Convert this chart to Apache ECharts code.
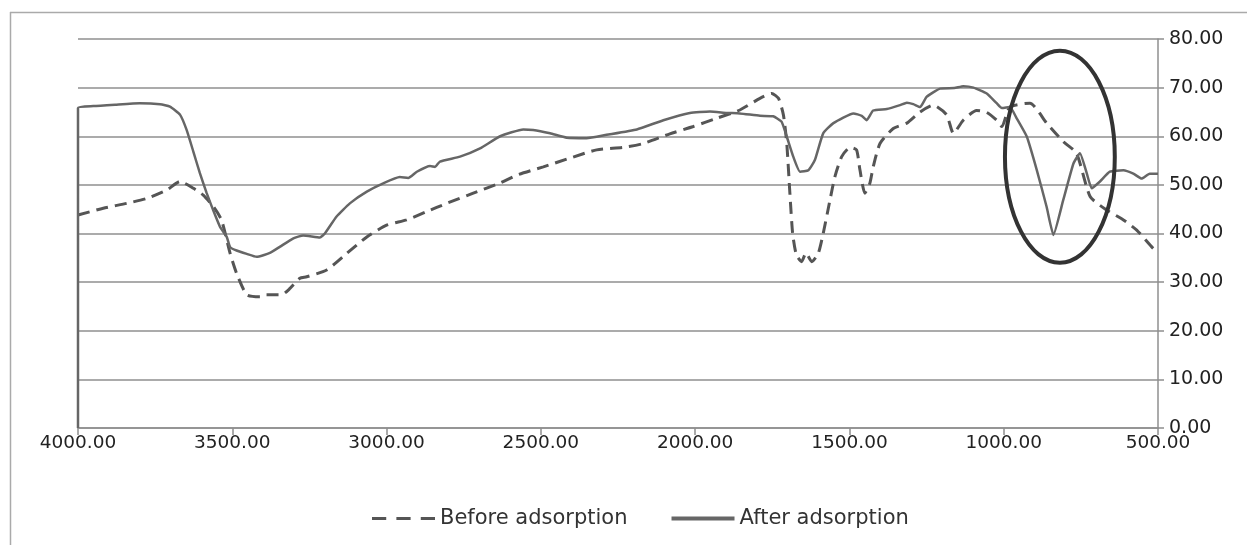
<!DOCTYPE html>
<html>
<head>
<meta charset="utf-8">
<script src="https://cdn.jsdelivr.net/npm/echarts@6/dist/echarts.min.js"></script>
<style>html,body{margin:0;padding:0;background:#fff;}#c{width:1247px;height:545px;}</style>
</head>
<body>
<div id="c"></div>
<script>
var xTicks = [4000, 3500, 3000, 2500, 2000, 1500, 1000, 500];
var yTicks = [0, 10, 20, 30, 40, 50, 60, 70, 80];

var beforeX = [4000,3918,3842,3777,3713,3669,3626,3594,3561,3535,3507,3486,3453,3410,3389,3340,3313,3281,3259,3194,3129,3064,3000,2935,2870,2805,2719,2632,2578,2492,2406,2319,2233,2168,2082,2006,1930,1855,1790,1752,1730,1714,1703,1693,1684,1672,1655,1641,1622,1601,1585,1563,1547,1525,1498,1477,1466,1450,1434,1423,1401,1358,1314,1271,1228,1185,1163,1131,1088,1055,1023,1006,980,915,861,807,764,720,666,612,569,521,500];
var beforeY = [43.8,45.2,46.2,47.2,48.9,50.7,49.3,47.9,45.5,42.8,35.9,31.8,27.4,27.0,27.4,27.4,28.7,30.8,31.1,32.5,35.9,39.3,41.7,42.8,44.5,46.2,48.3,50.4,52.0,53.7,55.5,57.2,57.7,58.5,60.5,62.0,63.7,65.4,67.8,68.8,67.8,64.4,58.5,48.3,40.0,35.6,34.2,36.0,34.2,35.9,40.0,46.9,51.7,55.8,57.7,57.2,53.1,48.3,50.3,53.7,58.5,61.6,62.7,65.0,66.4,64.4,60.6,63.3,65.3,64.9,63.3,62.0,66.0,66.8,62.7,58.9,56.5,47.6,44.8,42.8,40.7,37.3,36.0];

var afterX = [4000,4000,3950,3880,3800,3734,3702,3669,3648,3626,3605,3583,3562,3540,3518,3507,3486,3453,3421,3378,3345,3302,3270,3216,3200,3162,3119,3064,3011,2957,2930,2902,2859,2843,2827,2762,2697,2632,2557,2525,2470,2416,2352,2287,2189,2103,2017,1952,1898,1855,1790,1747,1720,1703,1682,1660,1633,1612,1585,1552,1487,1460,1444,1423,1379,1336,1314,1293,1271,1250,1206,1160,1131,1098,1055,1023,1006,980,958,925,893,861,839,807,774,753,731,715,688,656,612,580,553,527,500];
var afterY = [0,65.8,66.2,66.5,66.8,66.6,66.1,64.4,61.3,56.8,52.4,48.3,44.8,41.4,39.3,37.2,36.5,35.8,35.2,36.0,37.3,39.0,39.6,39.2,40.0,43.5,46.2,48.6,50.3,51.6,51.4,52.7,53.9,53.7,54.8,55.8,57.5,60.0,61.4,61.3,60.6,59.7,59.6,60.3,61.4,63.3,64.8,65.1,64.8,64.7,64.2,64.1,63.0,59.9,55.8,52.7,53.0,55.1,60.6,62.7,64.7,64.2,63.3,65.3,65.6,66.4,66.9,66.6,66.0,68.1,69.8,69.9,70.3,70.0,68.8,66.8,65.8,66.0,63.7,59.9,53.1,45.5,39.7,46.9,54.4,56.5,52.4,49.3,50.7,52.7,53.0,52.3,51.3,52.3,52.3];

function zip(a, b) { return a.map(function (v, i) { return [v, b[i]]; }); }

var chart = echarts.init(document.getElementById('c'), null, {renderer: 'canvas'});
var font = 'DejaVu Sans';
chart.setOption({
  animation: false,
  backgroundColor: '#fff',
  grid: {left: 78, right: 89, top: 39, bottom: 117},
  legend: {
    left: 367, top: 503,
    itemWidth: 63, itemHeight: 4, itemGap: 44,
    textStyle: {fontFamily: font, fontSize: 21, color: '#333', padding: [0,0,0,0]},
    data: [
      {name: 'Before adsorption', icon: 'path://M0,0h14v3h-14zM24,0h14v3h-14zM48,0h14v3h-14z', itemStyle: {color: '#555'}},
      {name: 'After adsorption', icon: 'rect', itemStyle: {color: '#666'}}
    ]
  },
  xAxis: {
    type: 'value', inverse: true, min: 500, max: 4000, interval: 500,
    axisLine: {show: true, lineStyle: {color: '#8f8f8f', width: 1.5}},
    axisTick: {show: true, length: 7, lineStyle: {color: '#8f8f8f', width: 1.5}},
    axisLabel: {fontFamily: font, fontSize: 18.5, color: '#222', margin: 6,
      formatter: function (v) { return v.toFixed(2); }},
    splitLine: {show: false}
  },
  yAxis: {
    type: 'value', position: 'right', min: 0, max: 80, interval: 10,
    axisLine: {show: true, lineStyle: {color: '#8f8f8f', width: 1.5}},
    axisTick: {show: true, length: 6, lineStyle: {color: '#8f8f8f', width: 1.5}},
    axisLabel: {fontFamily: font, fontSize: 19, color: '#222', margin: 11,
      formatter: function (v) { return v.toFixed(2); }},
    splitLine: {show: true, lineStyle: {color: '#8f8f8f', width: 1.5}}
  },
  series: [
    {name: 'Before adsorption', type: 'line', data: zip(beforeX, beforeY), showSymbol: false, symbol: 'none',
      smooth: 0.2, lineStyle: {color: '#555', width: 3, type: [12, 7]}, itemStyle: {color: '#555'}},
    {name: 'After adsorption', type: 'line', data: zip(afterX, afterY), showSymbol: false, symbol: 'none',
      smooth: 0.15, lineStyle: {color: '#666', width: 2.5}, itemStyle: {color: '#666'}}
  ]
});

// annotation ellipse in data coordinates
var ellCenter = [818, 55.8], ellRx = 178, ellRy = 21.8;
var c = chart.convertToPixel({gridIndex: 0}, ellCenter);
var e1 = chart.convertToPixel({gridIndex: 0}, [ellCenter[0] + ellRx, ellCenter[1] + ellRy]);
var rx = Math.abs(e1[0] - c[0]), ry = Math.abs(e1[1] - c[1]);
chart.setOption({
  graphic: [
    {type: 'ellipse', shape: {cx: c[0], cy: c[1], rx: rx, ry: ry}, style: {fill: 'none', stroke: '#333', lineWidth: 4}, z: 100},
    {type: 'line', shape: {x1: 10.5, y1: 12, x2: 10.5, y2: 545}, style: {stroke: '#aaa', lineWidth: 1.5}},
    {type: 'line', shape: {x1: 10, y1: 12.5, x2: 1247, y2: 12.5}, style: {stroke: '#aaa', lineWidth: 1.5}}
  ]
});
</script>
</body>
</html>
